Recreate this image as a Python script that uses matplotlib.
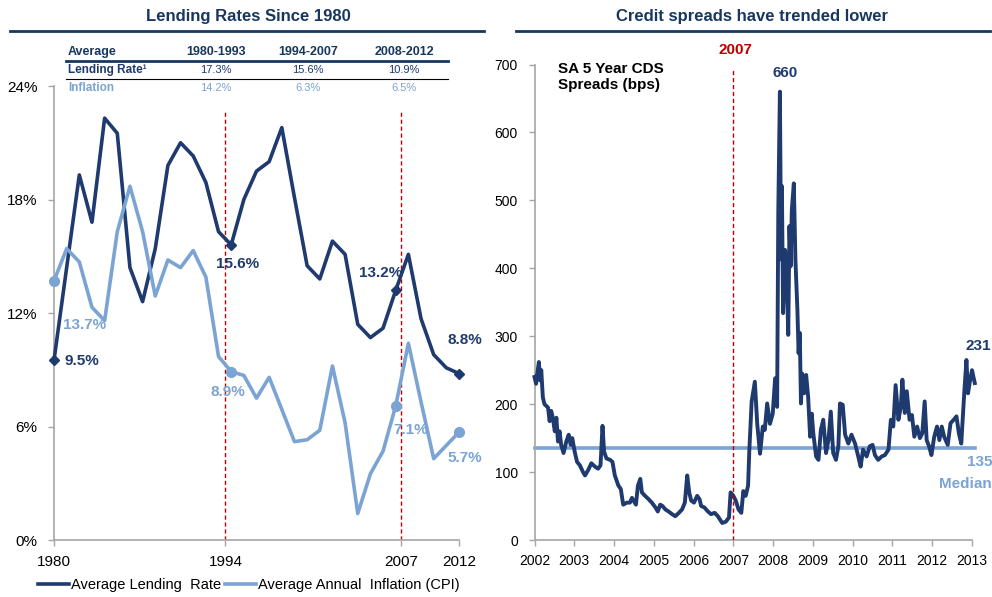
import matplotlib
matplotlib.use("Agg")
import matplotlib.pyplot as plt
from matplotlib.lines import Line2D

plt.rcParams['font.family'] = ['Liberation Sans', 'DejaVu Sans']

NAVY = '#1F3A6E'
LIGHT = '#7BA3D3'
RED = '#C00000'
TITLE = '#17375E'
GRAY = '#A6A6A6'

# ---------------- data ----------------
years = list(range(1980, 2013))
lending_rate = [9.5, 14.4, 19.3, 16.8, 22.3, 21.5, 14.4, 12.6, 15.4, 19.8, 21.0,
                20.3, 18.9, 16.3, 15.6, 18.0, 19.5, 20.0, 21.8, 18.1, 14.5, 13.8,
                15.8, 15.1, 11.4, 10.7, 11.2, 13.2, 15.1, 11.7, 9.8, 9.1, 8.8]
inflation = [13.7, 15.4, 14.7, 12.3, 11.6, 16.3, 18.7, 16.3, 12.9, 14.8, 14.4,
             15.3, 13.9, 9.7, 8.9, 8.7, 7.5, 8.6, 6.9, 5.2, 5.3, 5.8,
             9.2, 6.2, 1.4, 3.5, 4.7, 7.1, 10.4, 7.3, 4.3, 5.0, 5.7]
marked_years = [1980, 1994, 2007, 2012]
lending_labels = ['9.5%', '15.6%', '13.2%', '8.8%']
inflation_labels = ['13.7%', '8.9%', '7.1%', '5.7%']

table_cols = ['Average', '1980-1993', '1994-2007', '2008-2012']
table_lending = ['Lending Rate\u00b9', '17.3%', '15.6%', '10.9%']
table_inflation = ['Inflation', '14.2%', '6.3%', '6.5%']

cds_dates = [2002.00, 2002.04, 2002.07, 2002.11, 2002.14, 2002.17, 2002.21, 2002.25,
             2002.34, 2002.38, 2002.42, 2002.46, 2002.51, 2002.55, 2002.59, 2002.63,
             2002.67, 2002.73, 2002.80, 2002.86, 2002.91, 2002.95, 2003.01, 2003.07,
             2003.14, 2003.22, 2003.27, 2003.35, 2003.43, 2003.52, 2003.60, 2003.66,
             2003.71, 2003.75, 2003.81, 2003.90, 2003.96, 2004.02, 2004.11, 2004.17,
             2004.23, 2004.32, 2004.40, 2004.45, 2004.49, 2004.55, 2004.60, 2004.66,
             2004.70, 2004.78, 2004.87, 2004.95, 2005.04, 2005.10, 2005.16, 2005.22,
             2005.29, 2005.37, 2005.46, 2005.54, 2005.63, 2005.71, 2005.78, 2005.84,
             2005.89, 2005.94, 2006.01, 2006.09, 2006.15, 2006.19, 2006.27, 2006.36,
             2006.44, 2006.53, 2006.61, 2006.72, 2006.81, 2006.89, 2006.93, 2007.00,
             2007.06, 2007.13, 2007.20, 2007.25, 2007.31, 2007.37, 2007.40, 2007.46,
             2007.54, 2007.60, 2007.67, 2007.74, 2007.79, 2007.85, 2007.92, 2007.99,
             2008.05, 2008.10, 2008.13, 2008.17, 2008.20, 2008.22, 2008.25, 2008.30,
             2008.34, 2008.38, 2008.41, 2008.44, 2008.47, 2008.52, 2008.56, 2008.61,
             2008.64, 2008.67, 2008.70, 2008.73, 2008.78, 2008.83, 2008.88, 2008.93,
             2008.97, 2009.01, 2009.08, 2009.14, 2009.20, 2009.26, 2009.33, 2009.39,
             2009.45, 2009.51, 2009.58, 2009.64, 2009.68, 2009.75, 2009.81, 2009.89,
             2009.97, 2010.06, 2010.14, 2010.20, 2010.26, 2010.35, 2010.43, 2010.50,
             2010.56, 2010.64, 2010.73, 2010.81, 2010.90, 2010.96, 2011.02, 2011.08,
             2011.15, 2011.21, 2011.25, 2011.31, 2011.36, 2011.43, 2011.49, 2011.55,
             2011.62, 2011.69, 2011.75, 2011.81, 2011.86, 2011.92, 2011.98, 2012.05,
             2012.12, 2012.18, 2012.24, 2012.30, 2012.39, 2012.46, 2012.54, 2012.61,
             2012.67, 2012.73, 2012.77, 2012.81, 2012.86, 2012.90, 2012.94, 2013.00,
             2013.07]
cds_values = [240, 230, 245, 262, 235, 250, 210, 200,
              195, 175, 190, 180, 160, 180, 145, 160,
              140, 128, 145, 155, 140, 150, 130, 115,
              110, 100, 95, 103, 113, 108, 105, 110,
              168, 130, 120, 118, 115, 95, 80, 75,
              52, 55, 55, 62, 58, 52, 80, 90,
              70, 65, 60, 55, 48, 42, 52, 50,
              45, 42, 38, 35, 40, 45, 55, 95,
              70, 58, 55, 65, 60, 50, 48, 42,
              38, 40, 35, 25, 27, 33, 70, 65,
              58, 45, 40, 72, 65, 80, 130, 204,
              233, 171, 127, 167, 162, 201, 171, 186,
              238, 196, 486, 660, 413, 521, 334, 427,
              393, 302, 462, 403, 486, 525, 413, 339,
              275, 305, 201, 245, 216, 243, 211, 152,
              186, 157, 123, 118, 162, 177, 128, 147,
              189, 128, 118, 138, 201, 199, 155, 142,
              155, 142, 123, 108, 133, 123, 138, 140,
              125, 118, 123, 125, 133, 177, 167, 228,
              177, 196, 236, 187, 219, 177, 184, 152,
              167, 150, 157, 204, 147, 138, 125, 152,
              167, 147, 167, 152, 140, 172, 177, 182,
              157, 142, 182, 221, 265, 216, 231, 250,
              231]
cds_median = 135
cds_years = list(range(2002, 2014))

# ---------------- figure ----------------
W, H = 992, 597
fig = plt.figure(figsize=(W / 100, H / 100), dpi=100)

def fx(px):
    return px / W

def fy(py):
    return 1 - py / H

# Titles and rules
fig.text(fx(248), fy(16), 'Lending Rates Since 1980', ha='center', va='center',
         fontsize=12, fontweight='bold', color=TITLE)
fig.text(fx(752), fy(16), 'Credit spreads have trended lower', ha='center', va='center',
         fontsize=12, fontweight='bold', color=TITLE)
fig.add_artist(Line2D([fx(10), fx(484)], [fy(31), fy(31)], color=TITLE, lw=2))
fig.add_artist(Line2D([fx(516), fx(990)], [fy(31), fy(31)], color=TITLE, lw=2))

# ---------------- left chart ----------------
axL = fig.add_axes([fx(54), fy(540), fx(459) - fx(54), fy(86) - fy(540)])
axL.plot(years, lending_rate, color=NAVY, lw=2.6, zorder=3, clip_on=False)
axL.plot(years, inflation, color=LIGHT, lw=2.6, zorder=3, clip_on=False)
idx = [years.index(y) for y in marked_years]
axL.plot(marked_years, [lending_rate[i] for i in idx], ls='none', marker='D',
         ms=5, color=NAVY, zorder=4, clip_on=False)
axL.plot(marked_years, [inflation[i] for i in idx], ls='none', marker='o',
         ms=7, color=LIGHT, zorder=4, clip_on=False)
axL.set_xlim(1980, 2012)
axL.set_ylim(0, 24)
axL.set_yticks([0, 6, 12, 18, 24])
axL.set_yticklabels(['0%', '6%', '12%', '18%', '24%'])
axL.set_xticks([1980, 1993.55, 2007.4, 2012])
axL.set_xticklabels(['1980', '1994', '2007', '2012'])
for sp in ['top', 'right']:
    axL.spines[sp].set_visible(False)
for sp in ['left', 'bottom']:
    axL.spines[sp].set_color(GRAY)
    axL.spines[sp].set_linewidth(1.2)
axL.tick_params(axis='both', colors=GRAY, labelcolor='black', labelsize=11,
                length=4, width=1)
axL.tick_params(axis='x', pad=7)
axL.tick_params(axis='y', pad=8)
for xv in [1993.55, 2007.4]:
    axL.plot([xv, xv], [0, 22.7], ls=(0, (3, 2)), color=RED, lw=1, zorder=2)

# data labels
lab_pos_l = [(82, 361), (238, 264), (381, 273), (465, 340)]
lab_pos_i = [(85, 325), (228, 392), (411, 430), (465, 458)]
for (px, py), t in zip(lab_pos_l, lending_labels):
    fig.text(fx(px), fy(py), t, ha='center', va='center', fontsize=11,
             fontweight='bold', color=NAVY)
for (px, py), t in zip(lab_pos_i, inflation_labels):
    fig.text(fx(px), fy(py), t, ha='center', va='center', fontsize=11,
             fontweight='bold', color=LIGHT)

# summary table
col_x = [68, 216, 308, 404]
for j, t in enumerate(table_cols):
    fig.text(fx(col_x[j]), fy(52), t, ha='left' if j == 0 else 'center', va='center',
             fontsize=9, fontweight='bold', color=TITLE)
for j, t in enumerate(table_lending):
    fig.text(fx(col_x[j]), fy(70), t, ha='left' if j == 0 else 'center', va='center',
             fontsize=8.5 if j == 0 else 8, fontweight='bold' if j == 0 else 'normal',
             color=NAVY)
for j, t in enumerate(table_inflation):
    fig.text(fx(col_x[j]), fy(88), t, ha='left' if j == 0 else 'center', va='center',
             fontsize=8.5 if j == 0 else 8, fontweight='bold' if j == 0 else 'normal',
             color=LIGHT)
fig.add_artist(Line2D([fx(66), fx(448)], [fy(61), fy(61)], color=TITLE, lw=2))
fig.add_artist(Line2D([fx(66), fx(448)], [fy(79), fy(79)], color='black', lw=0.8))

# legend
handles = [Line2D([], [], color=NAVY, lw=2.6), Line2D([], [], color=LIGHT, lw=2.6)]
fig.legend(handles, ['Average Lending  Rate', 'Average Annual  Inflation (CPI)'],
           loc='center', bbox_to_anchor=(fx(249), fy(585)), ncol=2, frameon=False,
           fontsize=10.5, handlelength=2.1, handletextpad=0.15, columnspacing=0.3,
           borderpad=0, borderaxespad=0)

# ---------------- right chart ----------------
axR = fig.add_axes([fx(534.5), fy(540), fx(972) - fx(534.5), fy(64.5) - fy(540)])
axR.plot(cds_dates, cds_values, color=NAVY, lw=2.8, zorder=3,
         solid_joinstyle='round', clip_on=False)
axR.plot([2002, 2013.08], [cds_median, cds_median], color=LIGHT, lw=2.6, zorder=2,
         clip_on=False)
axR.plot([2007, 2007], [0, 695], ls=(0, (3, 2)), color=RED, lw=1, zorder=4)
axR.set_xlim(2002, 2013)
axR.set_ylim(0, 700)
axR.set_yticks(range(0, 701, 100))
axR.set_xticks(cds_years)
for sp in ['top', 'right']:
    axR.spines[sp].set_visible(False)
for sp in ['left', 'bottom']:
    axR.spines[sp].set_color(GRAY)
    axR.spines[sp].set_linewidth(1.2)
axR.tick_params(axis='both', colors=GRAY, labelcolor='black', labelsize=10,
                length=4, width=1)
axR.tick_params(axis='y', pad=8)
axR.tick_params(axis='x', pad=6)

fig.text(fx(558), fy(77), 'SA 5 Year CDS\nSpreads (bps)', ha='left', va='center',
         fontsize=11, fontweight='bold', color='black', linespacing=1.25)
fig.text(fx(735), fy(50), '2007', ha='center', va='center', fontsize=11,
         fontweight='bold', color=RED)
fig.text(fx(785), fy(73), '660', ha='center', va='center', fontsize=11,
         fontweight='bold', color=NAVY)
fig.text(fx(978), fy(346), '231', ha='center', va='center', fontsize=11,
         fontweight='bold', color=NAVY)
fig.text(fx(980), fy(462), '135', ha='center', va='center', fontsize=11,
         fontweight='bold', color=LIGHT)
fig.text(fx(965), fy(484), 'Median', ha='center', va='center', fontsize=11,
         fontweight='bold', color=LIGHT)

fig.savefig('out.png', dpi=100)
